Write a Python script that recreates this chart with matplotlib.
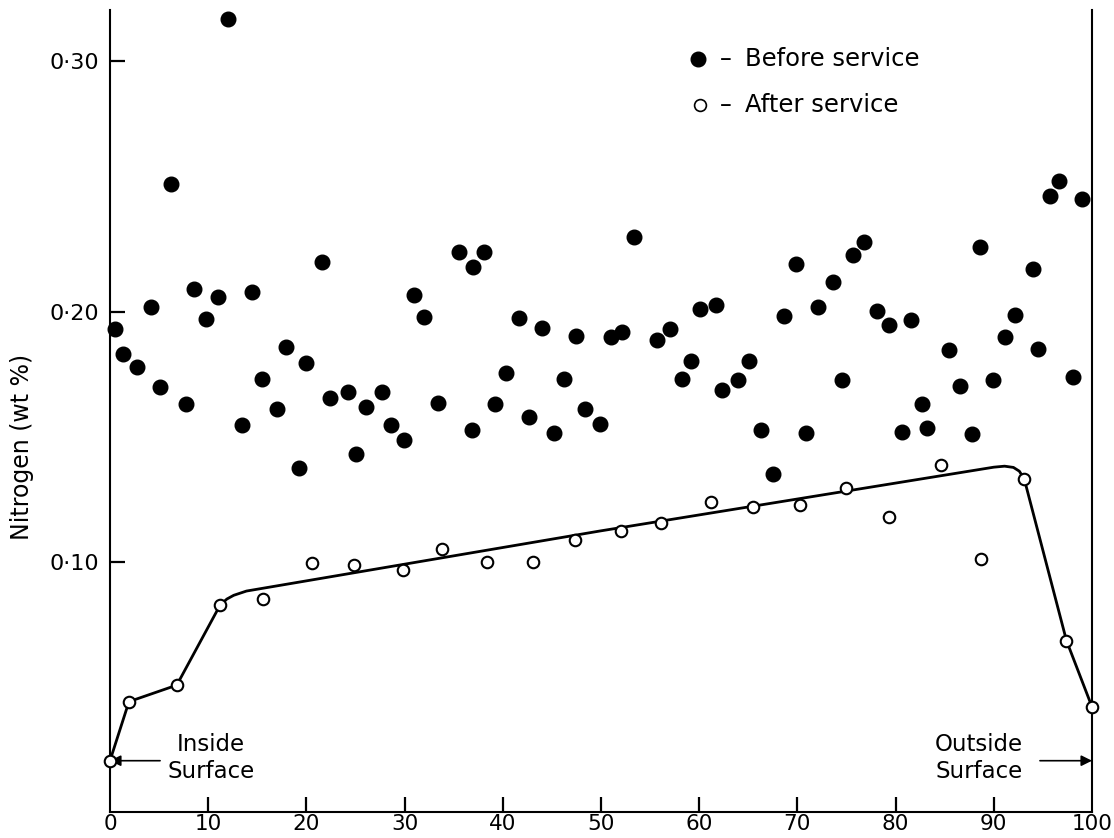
import matplotlib
matplotlib.use("Agg")
import matplotlib.pyplot as plt

plt.rcParams['font.family'] = ['DejaVu Sans']

# Distance through the wall (%) and nitrogen content (wt %) before service
before_x = [0.5, 1.35, 2.8, 4.2, 5.1, 6.2, 7.7, 8.6, 9.8, 11.0, 12.0, 13.4, 14.5,
            15.5, 17.0, 17.9, 19.2, 20.0, 21.6, 22.4, 24.2, 25.1, 26.1, 27.7, 28.6,
            29.9, 31.0, 32.0, 33.4, 35.5, 37.0, 38.1, 36.9, 39.2, 40.3, 41.6, 42.7,
            44.0, 45.2, 46.2, 47.5, 48.4, 49.9, 51.0, 52.1, 53.4, 55.7, 57.0, 58.2,
            59.2, 60.1, 61.7, 62.3, 64.0, 65.1, 66.3, 67.5, 68.6, 69.9, 70.9, 72.1,
            73.6, 74.5, 75.7, 76.8, 78.1, 79.3, 81.6, 80.7, 82.7, 83.2, 85.4, 86.6,
            87.8, 88.6, 89.9, 91.1, 92.2, 94.0, 94.5, 95.7, 96.6, 98.1, 99.0]
before_n = [0.193, 0.183, 0.178, 0.202, 0.170, 0.251, 0.163, 0.209, 0.197, 0.206,
            0.317, 0.1545, 0.208, 0.173, 0.161, 0.186, 0.1376, 0.1795, 0.2197, 0.1655,
            0.168, 0.143, 0.162, 0.168, 0.1545, 0.1486, 0.2068, 0.198, 0.1635, 0.2238,
            0.2178, 0.2238, 0.1526, 0.163, 0.1756, 0.1974, 0.158, 0.1935, 0.1515, 0.173,
            0.1904, 0.161, 0.155, 0.1897, 0.1918, 0.2299, 0.1886, 0.1932, 0.1729, 0.1804,
            0.2012, 0.2028, 0.1685, 0.1725, 0.1802, 0.1525, 0.135, 0.1984, 0.2188, 0.1515,
            0.2018, 0.2118, 0.1725, 0.2224, 0.2276, 0.2004, 0.1948, 0.1965, 0.1518, 0.1629,
            0.1533, 0.1846, 0.1702, 0.1509, 0.2257, 0.1725, 0.1897, 0.1988, 0.217, 0.1852,
            0.246, 0.252, 0.1739, 0.245]

# After service
after_x = [0.0, 1.93, 6.8, 11.2, 15.6, 20.6, 24.8, 29.8, 33.8, 38.4, 43.1, 47.4,
           52.0, 56.1, 61.2, 65.5, 70.3, 74.95, 79.3, 84.6, 88.7, 93.1, 97.4, 100.0]
after_n = [0.0205, 0.0441, 0.0507, 0.0826, 0.085, 0.0994, 0.0987, 0.0966, 0.105,
           0.0999, 0.0999, 0.1086, 0.1123, 0.1156, 0.124, 0.122, 0.1226, 0.1296,
           0.118, 0.1385, 0.1012, 0.1331, 0.0685, 0.042]

# Hand-fitted profile through the after-service data
curve_x = [0.0, 1.93, 6.8, 11.2, 11.9, 12.6, 13.9, 49.9, 90.0, 91.1, 92.0, 92.6, 93.1, 97.4, 100.0]
curve_n = [0.0205, 0.0441, 0.0507, 0.0826, 0.0851, 0.0866, 0.0883, 0.1123, 0.1378,
           0.1382, 0.1377, 0.1362, 0.1331, 0.0685, 0.042]

x_ticks = [0, 10, 20, 30, 40, 50, 60, 70, 80, 90, 100]
y_ticks = [0.10, 0.20, 0.30]
y_ticklabels = ["0·10", "0·20", "0·30"]

fig = plt.figure(figsize=(11.14, 8.38), dpi=100)
ax = fig.add_axes([110 / 1114, 1 - 812 / 838, 982 / 1114, 802 / 838])
ax.set_xlim(0, 100)
ax.set_ylim(0, 0.3205)

ax.plot(curve_x, curve_n, color='black', lw=2.0, zorder=2, clip_on=False,
        solid_joinstyle='round')
ax.plot(before_x, before_n, 'o', color='black', ms=10.5, zorder=3, clip_on=False)
ax.plot(after_x, after_n, 'o', mfc='white', mec='black', mew=1.5, ms=8.3,
        zorder=4, clip_on=False)

ax.spines['top'].set_visible(False)
for side in ('left', 'right', 'bottom'):
    ax.spines[side].set_linewidth(1.5)

ax.set_xticks(x_ticks)
ax.set_xticklabels([str(v) for v in x_ticks])
ax.set_yticks(y_ticks)
ax.set_yticklabels(y_ticklabels)
ax.tick_params(axis='both', direction='in', length=11, width=1.6, labelsize=16)
ax.tick_params(axis='x', pad=1.5, labelsize=15.5)
ax.tick_params(axis='y', pad=8)
ax.xaxis.get_major_ticks()[0].tick1line.set_visible(False)
ax.xaxis.get_major_ticks()[-1].tick1line.set_visible(False)

ax.set_ylabel("Nitrogen (wt %)", fontsize=17)
ax.yaxis.set_label_coords(-0.077, 0.455)

# Key
ax.plot([0.599], [0.9395], 'o', color='black', ms=10.5, transform=ax.transAxes, clip_on=False)
ax.plot([0.601], [0.881], 'o', mfc='white', mec='black', mew=1.2, ms=8.5,
        transform=ax.transAxes, clip_on=False)
for yk, label in ((0.9395, "Before service"), (0.881, "After service")):
    ax.text(0.627, yk, "–", transform=ax.transAxes, fontsize=17,
            va='center', ha='center')
    ax.text(0.647, yk, label, transform=ax.transAxes, fontsize=17.5,
            va='center', ha='left')

# Surface markers
ax.annotate("", xy=(0.0, 0.0205), xytext=(5.1, 0.0205),
            arrowprops=dict(arrowstyle='-|>', color='black', lw=1.2,
                            mutation_scale=16, shrinkA=0, shrinkB=0))
ax.text(10.3, 0.0215, "Inside\nSurface", fontsize=16.5, ha='center', va='center',
        linespacing=1.2)
ax.annotate("", xy=(100.0, 0.0205), xytext=(94.7, 0.0205),
            arrowprops=dict(arrowstyle='-|>', color='black', lw=1.2,
                            mutation_scale=16, shrinkA=0, shrinkB=0))
ax.text(88.5, 0.0215, "Outside\nSurface", fontsize=16.5, ha='center', va='center',
        linespacing=1.2)

fig.savefig("out.png", dpi=100)
